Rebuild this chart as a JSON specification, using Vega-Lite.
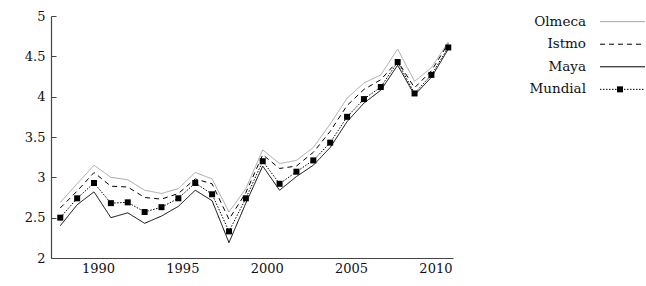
{
  "$schema": "https://vega.github.io/schema/vega-lite/v6.json",
  "background": "white",
  "padding": {"left": 24, "top": 10, "right": 0, "bottom": 0},
  "bounds": "flush",
  "spacing": 27,
  "config": {"view": {"stroke": null}, "font": "DejaVu Serif", "axis": {"labelFont": "DejaVu Serif"}, "text": {"font": "DejaVu Serif"}},
  "datasets": {
    "series": [
      {"year": 1988, "serie": "Olmeca", "value": 2.69}, {"year": 1989, "serie": "Olmeca", "value": 2.92}, {"year": 1990, "serie": "Olmeca", "value": 3.15}, {"year": 1991, "serie": "Olmeca", "value": 3.00}, {"year": 1992, "serie": "Olmeca", "value": 2.97}, {"year": 1993, "serie": "Olmeca", "value": 2.84}, {"year": 1994, "serie": "Olmeca", "value": 2.80}, {"year": 1995, "serie": "Olmeca", "value": 2.86}, {"year": 1996, "serie": "Olmeca", "value": 3.06}, {"year": 1997, "serie": "Olmeca", "value": 2.98}, {"year": 1998, "serie": "Olmeca", "value": 2.57}, {"year": 1999, "serie": "Olmeca", "value": 2.86}, {"year": 2000, "serie": "Olmeca", "value": 3.34}, {"year": 2001, "serie": "Olmeca", "value": 3.17}, {"year": 2002, "serie": "Olmeca", "value": 3.21}, {"year": 2003, "serie": "Olmeca", "value": 3.37}, {"year": 2004, "serie": "Olmeca", "value": 3.66}, {"year": 2005, "serie": "Olmeca", "value": 3.98}, {"year": 2006, "serie": "Olmeca", "value": 4.17}, {"year": 2007, "serie": "Olmeca", "value": 4.27}, {"year": 2008, "serie": "Olmeca", "value": 4.59}, {"year": 2009, "serie": "Olmeca", "value": 4.19}, {"year": 2010, "serie": "Olmeca", "value": 4.36}, {"year": 2011, "serie": "Olmeca", "value": 4.68},
      {"year": 1988, "serie": "Istmo", "value": 2.62}, {"year": 1989, "serie": "Istmo", "value": 2.83}, {"year": 1990, "serie": "Istmo", "value": 3.06}, {"year": 1991, "serie": "Istmo", "value": 2.89}, {"year": 1992, "serie": "Istmo", "value": 2.88}, {"year": 1993, "serie": "Istmo", "value": 2.75}, {"year": 1994, "serie": "Istmo", "value": 2.73}, {"year": 1995, "serie": "Istmo", "value": 2.80}, {"year": 1996, "serie": "Istmo", "value": 2.98}, {"year": 1997, "serie": "Istmo", "value": 2.92}, {"year": 1998, "serie": "Istmo", "value": 2.48}, {"year": 1999, "serie": "Istmo", "value": 2.81}, {"year": 2000, "serie": "Istmo", "value": 3.28}, {"year": 2001, "serie": "Istmo", "value": 3.11}, {"year": 2002, "serie": "Istmo", "value": 3.14}, {"year": 2003, "serie": "Istmo", "value": 3.31}, {"year": 2004, "serie": "Istmo", "value": 3.57}, {"year": 2005, "serie": "Istmo", "value": 3.89}, {"year": 2006, "serie": "Istmo", "value": 4.09}, {"year": 2007, "serie": "Istmo", "value": 4.21}, {"year": 2008, "serie": "Istmo", "value": 4.44}, {"year": 2009, "serie": "Istmo", "value": 4.11}, {"year": 2010, "serie": "Istmo", "value": 4.32}, {"year": 2011, "serie": "Istmo", "value": 4.66},
      {"year": 1988, "serie": "Maya", "value": 2.40}, {"year": 1989, "serie": "Maya", "value": 2.66}, {"year": 1990, "serie": "Maya", "value": 2.82}, {"year": 1991, "serie": "Maya", "value": 2.50}, {"year": 1992, "serie": "Maya", "value": 2.56}, {"year": 1993, "serie": "Maya", "value": 2.43}, {"year": 1994, "serie": "Maya", "value": 2.52}, {"year": 1995, "serie": "Maya", "value": 2.64}, {"year": 1996, "serie": "Maya", "value": 2.84}, {"year": 1997, "serie": "Maya", "value": 2.71}, {"year": 1998, "serie": "Maya", "value": 2.19}, {"year": 1999, "serie": "Maya", "value": 2.68}, {"year": 2000, "serie": "Maya", "value": 3.14}, {"year": 2001, "serie": "Maya", "value": 2.84}, {"year": 2002, "serie": "Maya", "value": 3.01}, {"year": 2003, "serie": "Maya", "value": 3.15}, {"year": 2004, "serie": "Maya", "value": 3.37}, {"year": 2005, "serie": "Maya", "value": 3.69}, {"year": 2006, "serie": "Maya", "value": 3.92}, {"year": 2007, "serie": "Maya", "value": 4.08}, {"year": 2008, "serie": "Maya", "value": 4.39}, {"year": 2009, "serie": "Maya", "value": 4.02}, {"year": 2010, "serie": "Maya", "value": 4.24}, {"year": 2011, "serie": "Maya", "value": 4.59},
      {"year": 1988, "serie": "Mundial", "value": 2.50}, {"year": 1989, "serie": "Mundial", "value": 2.74}, {"year": 1990, "serie": "Mundial", "value": 2.93}, {"year": 1991, "serie": "Mundial", "value": 2.68}, {"year": 1992, "serie": "Mundial", "value": 2.69}, {"year": 1993, "serie": "Mundial", "value": 2.57}, {"year": 1994, "serie": "Mundial", "value": 2.63}, {"year": 1995, "serie": "Mundial", "value": 2.74}, {"year": 1996, "serie": "Mundial", "value": 2.93}, {"year": 1997, "serie": "Mundial", "value": 2.79}, {"year": 1998, "serie": "Mundial", "value": 2.33}, {"year": 1999, "serie": "Mundial", "value": 2.74}, {"year": 2000, "serie": "Mundial", "value": 3.20}, {"year": 2001, "serie": "Mundial", "value": 2.92}, {"year": 2002, "serie": "Mundial", "value": 3.07}, {"year": 2003, "serie": "Mundial", "value": 3.21}, {"year": 2004, "serie": "Mundial", "value": 3.43}, {"year": 2005, "serie": "Mundial", "value": 3.75}, {"year": 2006, "serie": "Mundial", "value": 3.97}, {"year": 2007, "serie": "Mundial", "value": 4.12}, {"year": 2008, "serie": "Mundial", "value": 4.43}, {"year": 2009, "serie": "Mundial", "value": 4.04}, {"year": 2010, "serie": "Mundial", "value": 4.27}, {"year": 2011, "serie": "Mundial", "value": 4.61}
    ],
    "keys": [{"serie": "Olmeca"}, {"serie": "Istmo"}, {"serie": "Maya"}, {"serie": "Mundial"}]
  },
  "hconcat": [
    {
      "width": 402,
      "height": 242,
      "data": {"name": "series"},
      "layer": [
        {
          "mark": {"type": "line", "strokeWidth": 1},
          "encoding": {
            "x": {"field": "year", "type": "quantitative",
              "scale": {"domain": [1987.45, 2011.28], "nice": false, "zero": false},
              "axis": {"title": null, "values": [1990, 1995, 2000, 2005, 2010], "format": "d", "ticks": false, "grid": false,
                "labelOffset": 4, "labelPadding": 4, "labelFontSize": 13, "labelFont": "DejaVu Serif", "labelColor": "#111",
                "domainColor": "#444", "domainWidth": 1.2, "labelFlush": false, "labelOverlap": false}},
            "y": {"field": "value", "type": "quantitative",
              "scale": {"domain": [2, 5], "nice": false, "zero": false},
              "axis": {"title": null, "values": [2, 2.5, 3, 3.5, 4, 4.5, 5], "format": "~g", "tickSize": -5, "tickColor": "#444",
                "labelPadding": 11, "grid": false, "labelFontSize": 13, "labelFont": "DejaVu Serif", "labelColor": "#111",
                "domainColor": "#444", "domainWidth": 1.2, "labelFlush": false, "labelOverlap": false}},
            "color": {"field": "serie", "type": "nominal",
              "scale": {"domain": ["Olmeca", "Istmo", "Maya", "Mundial"], "range": ["#a6a6a6", "#000000", "#000000", "#000000"]}, "legend": null},
            "strokeDash": {"field": "serie", "type": "nominal",
              "scale": {"domain": ["Olmeca", "Istmo", "Maya", "Mundial"], "range": [[1, 0], [5, 4], [1, 0], [1.5, 1.5]]}, "legend": null}
          }
        },
        {
          "transform": [{"filter": "datum.serie === 'Mundial'"}],
          "mark": {"type": "point", "shape": "square", "filled": true, "size": 36, "opacity": 1, "color": "#000000"},
          "encoding": {
            "x": {"field": "year", "type": "quantitative"},
            "y": {"field": "value", "type": "quantitative"}
          }
        }
      ]
    },
    {
      "width": 166,
      "height": 79,
      "data": {"name": "keys"},
      "layer": [
        {
          "mark": {"type": "text", "align": "right", "baseline": "middle", "fontSize": 13.5, "font": "DejaVu Serif", "color": "#111"},
          "encoding": {
            "y": {"field": "serie", "type": "nominal", "scale": {"type": "point", "domain": ["Olmeca", "Istmo", "Maya", "Mundial"], "padding": 0.25}, "axis": null},
            "x": {"datum": 106, "type": "quantitative", "scale": {"domain": [0, 166], "nice": false, "zero": false}, "axis": null},
            "text": {"field": "serie"}
          }
        },
        {
          "mark": {"type": "rule", "strokeWidth": 1},
          "encoding": {
            "y": {"field": "serie", "type": "nominal"},
            "x": {"datum": 120, "type": "quantitative"},
            "x2": {"datum": 165},
            "color": {"field": "serie", "type": "nominal",
              "scale": {"domain": ["Olmeca", "Istmo", "Maya", "Mundial"], "range": ["#a6a6a6", "#000000", "#000000", "#000000"]}, "legend": null},
            "strokeDash": {"field": "serie", "type": "nominal",
              "scale": {"domain": ["Olmeca", "Istmo", "Maya", "Mundial"], "range": [[1, 0], [4, 3], [1, 0], [1.5, 1.5]]}, "legend": null}
          }
        },
        {
          "transform": [{"filter": "datum.serie === 'Mundial'"}],
          "mark": {"type": "point", "shape": "square", "filled": true, "size": 36, "opacity": 1, "color": "#000000"},
          "encoding": {
            "y": {"field": "serie", "type": "nominal"},
            "x": {"datum": 140, "type": "quantitative"}
          }
        }
      ]
    }
  ]
}
